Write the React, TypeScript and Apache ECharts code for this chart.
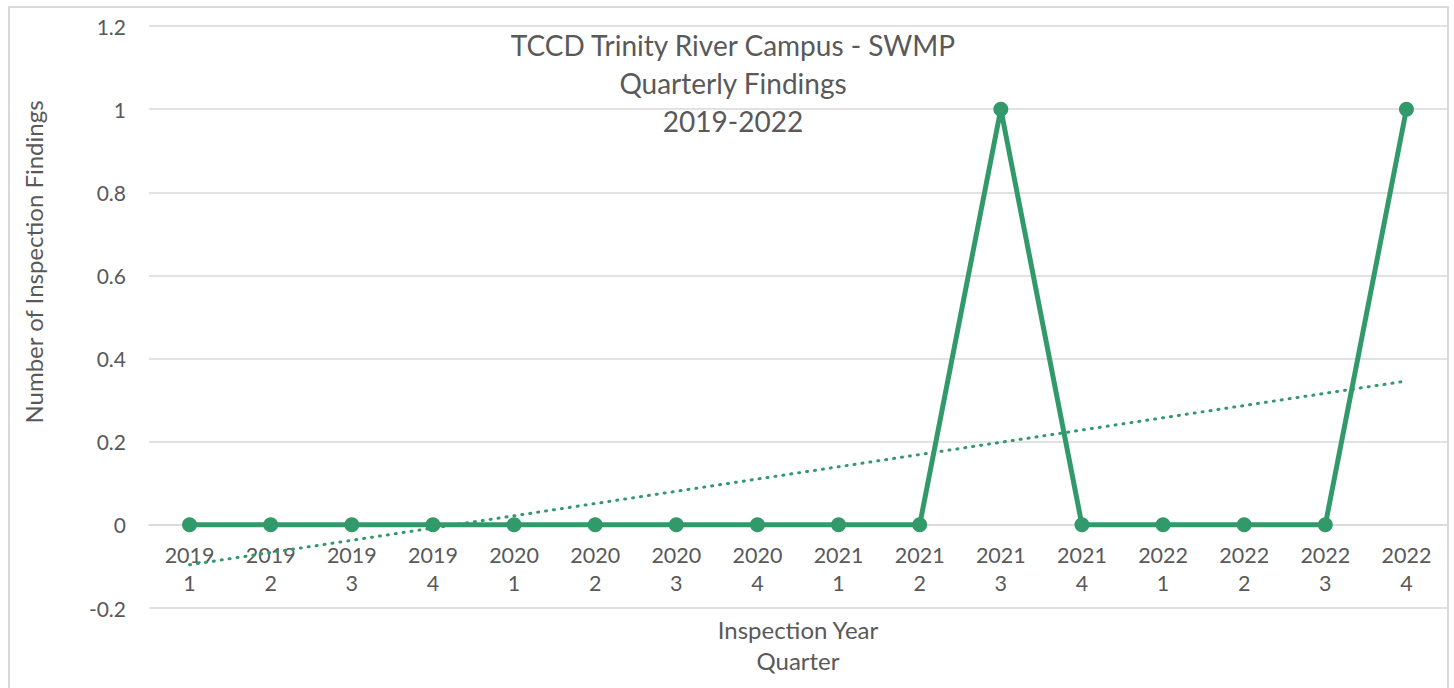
import React, { useEffect, useRef } from "react";
import * as echarts from "echarts";

const years = ["2019", "2019", "2019", "2019", "2020", "2020", "2020", "2020", "2021", "2021", "2021", "2021", "2022", "2022", "2022", "2022"];
const quarters = ["1", "2", "3", "4", "1", "2", "3", "4", "1", "2", "3", "4", "1", "2", "3", "4"];
const findings = [0, 0, 0, 0, 0, 0, 0, 0, 0, 0, 1, 0, 0, 0, 0, 1];
const trendStart = -0.096;
const trendEnd = 0.346;
const yTicks = [-0.2, 0, 0.2, 0.4, 0.6, 0.8, 1, 1.2];
const titleLines = ["TCCD Trinity River Campus - SWMP", "Quarterly Findings", "2019-2022"];
const yAxisTitle = "Number of Inspection Findings";
const xAxisTitle = ["Inspection Year", "Quarter"];

const FONT = "Lato, 'Open Sans', sans-serif";
const TEXT = "#595959";
const GREEN = "#31996a";

const GRID_TOP = 26;
const GRID_BOTTOM_Y = 608;

export default function App() {
  const ref = useRef<HTMLDivElement>(null);
  useEffect(() => {
    if (!ref.current) return;
    const chart = echarts.init(ref.current, undefined, { renderer: "svg" });
    const categories = years.map((y, i) => `${y}\n${quarters[i]}`);
    const trend = findings.map((_, i) =>
      i === 0 ? trendStart : i === findings.length - 1 ? trendEnd : null
    );
    const yMin = yTicks[0];
    const yMax = yTicks[yTicks.length - 1];
    const plotH = GRID_BOTTOM_Y - GRID_TOP;
    // move the category axis up to the zero line
    const zeroOffset = -plotH * (0 - yMin) / (yMax - yMin);
    chart.setOption({
      animation: false,
      textStyle: { fontFamily: FONT },
      grid: { left: 149, right: 7, top: GRID_TOP, bottom: 688 - GRID_BOTTOM_Y, containLabel: false },
      xAxis: {
        type: "category",
        data: categories,
        boundaryGap: true,
        offset: zeroOffset,
        axisLine: { show: true, onZero: false, lineStyle: { color: "#d9d9d9", width: 1.5 } },
        axisTick: { show: false },
        axisLabel: { color: TEXT, fontSize: 21.5, lineHeight: 28, margin: 16, fontFamily: FONT, interval: 0 },
        splitLine: { show: false },
      },
      yAxis: {
        type: "value",
        min: yMin,
        max: yMax,
        interval: 0.2,
        axisLine: { show: false },
        axisTick: { show: false },
        axisLabel: {
          color: TEXT,
          fontSize: 21,
          margin: 23,
          fontFamily: FONT,
          formatter: (v: number) => String(Math.round(v * 10) / 10),
        },
        splitLine: { show: true, lineStyle: { color: "#d9d9d9", width: 1.5 } },
      },
      series: [
        {
          type: "line",
          data: trend,
          connectNulls: true,
          symbol: "none",
          lineStyle: { color: GREEN, width: 3, type: [1, 7], cap: "round" },
          z: 3,
        },
        {
          type: "line",
          data: findings,
          symbol: "circle",
          symbolSize: 15,
          itemStyle: { color: GREEN },
          lineStyle: { color: GREEN, width: 5 },
          z: 4,
        },
      ],
      graphic: [
        {
          type: "rect",
          shape: { x: 9, y: 7, width: 1439, height: 700 },
          style: { fill: "none", stroke: "#d9d9d9", lineWidth: 2 },
          silent: true,
        },
        {
          type: "text",
          x: 733,
          y: 26,
          style: {
            text: titleLines.join("\n"),
            fill: TEXT,
            font: `28px ${FONT}`,
            lineHeight: 38,
            align: "center",
            verticalAlign: "top",
          },
        },
        {
          type: "text",
          x: 33,
          y: 262,
          rotation: Math.PI / 2,
          style: {
            text: yAxisTitle,
            fill: TEXT,
            font: `24px ${FONT}`,
            align: "center",
            verticalAlign: "middle",
          },
        },
        {
          type: "text",
          x: 798,
          y: 614,
          style: {
            text: xAxisTitle.join("\n"),
            fill: TEXT,
            font: `24px ${FONT}`,
            lineHeight: 31,
            align: "center",
            verticalAlign: "top",
          },
        },
      ],
    });
    return () => chart.dispose();
  }, []);
  return <div ref={ref} style={{ width: 1454, height: 688, position: "absolute", left: 0, top: 0 }} />;
}
